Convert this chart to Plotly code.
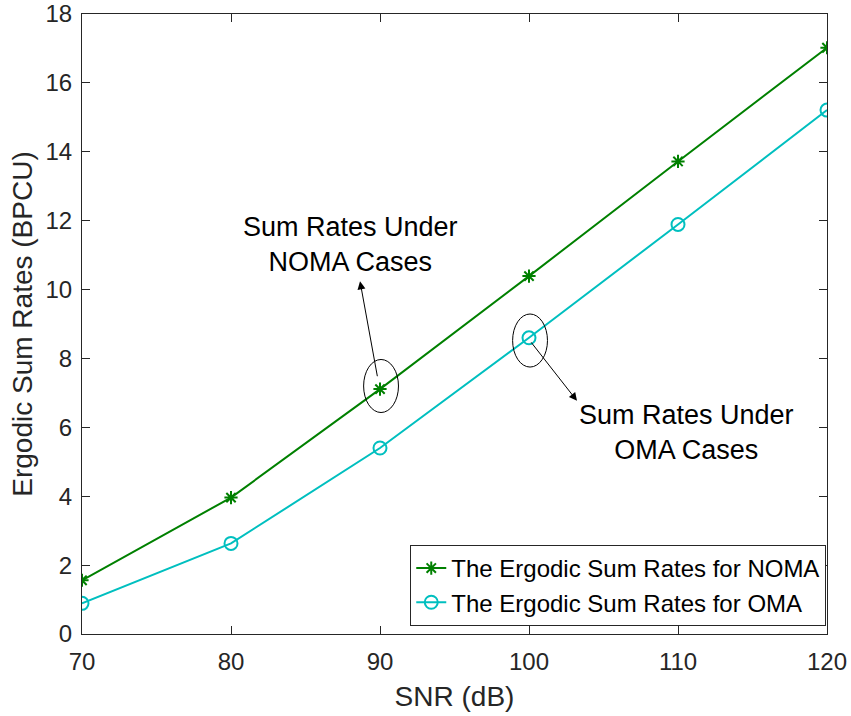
import plotly.graph_objects as go

snr = [70, 80, 90, 100, 110, 120]
noma = [1.56, 3.96, 7.11, 10.39, 13.72, 17.02]
oma = [0.89, 2.63, 5.40, 8.60, 11.89, 15.21]
noma_name = "The Ergodic Sum Rates for NOMA"
oma_name = "The Ergodic Sum Rates for OMA"
x_ticks = [70, 80, 90, 100, 110, 120]
y_ticks = [0, 2, 4, 6, 8, 10, 12, 14, 16, 18]

FONT = "Liberation Sans, Arial, Helvetica, sans-serif"
AX = "#262626"

fig = go.Figure()
fig.add_trace(go.Scatter(x=snr, y=noma, mode="lines+markers", name=noma_name,
                         line=dict(color="#008000", width=2),
                         marker=dict(symbol="asterisk-open", size=11, color="#008000",
                                     line=dict(color="#008000", width=2))))
fig.add_trace(go.Scatter(x=snr, y=oma, mode="lines+markers", name=oma_name,
                         line=dict(color="#00BFBF", width=2),
                         marker=dict(symbol="circle-open", size=13, color="#00BFBF",
                                     line=dict(color="#00BFBF", width=2))))

# ellipses
for cx, cy in [(90.07, 7.2), (100.07, 8.52)]:
    fig.add_shape(type="circle", xref="x", yref="y",
                  x0=cx - 1.17, x1=cx + 1.17, y0=cy - 0.77, y1=cy + 0.77,
                  line=dict(color="black", width=1))

# arrows
fig.add_annotation(x=88.66, y=10.24, ax=89.84, ay=7.44, xref="x", yref="y",
                   axref="x", ayref="y", text="", showarrow=True,
                   arrowhead=2, arrowsize=1.6, arrowwidth=1, arrowcolor="black")
fig.add_annotation(x=103.22, y=6.77, ax=100.07, ay=8.51, xref="x", yref="y",
                   axref="x", ayref="y", text="", showarrow=True,
                   arrowhead=2, arrowsize=1.6, arrowwidth=1, arrowcolor="black")

fig.add_annotation(x=87.99, y=11.31, xref="x", yref="y", showarrow=False,
                   text="Sum Rates Under<br>NOMA Cases",
                   font=dict(family=FONT, size=27, color="black"), align="center")
fig.add_annotation(x=110.6, y=5.84, xref="x", yref="y", showarrow=False,
                   text="Sum Rates Under<br>OMA Cases",
                   font=dict(family=FONT, size=27, color="black"), align="center")

axis_common = dict(showline=True, linecolor=AX, linewidth=1, mirror="ticks",
                   ticks="inside", ticklen=8, tickcolor=AX, tickwidth=1,
                   showgrid=False, zeroline=False, automargin=False,
                   ticklabeloverflow="allow",
                   tickfont=dict(family=FONT, size=24, color=AX))

fig.update_xaxes(range=[70, 120], tickvals=x_ticks, ticklabelstandoff=6,
                 title=dict(text="SNR (dB)", font=dict(family=FONT, size=28, color=AX), standoff=12),
                 **axis_common)
fig.update_yaxes(range=[0, 18], tickvals=y_ticks, ticklabelstandoff=4,
                 title=dict(text="Ergodic Sum Rates (BPCU)", font=dict(family=FONT, size=28, color=AX), standoff=4),
                 **axis_common)

fig.update_layout(
    width=851, height=716,
    margin=dict(l=82, r=24, t=14, b=82),
    plot_bgcolor="white", paper_bgcolor="white",
    font=dict(family=FONT, color=AX),
    legend=dict(x=0.999, y=0.013, xanchor="right", yanchor="bottom",
                bgcolor="white", bordercolor=AX, borderwidth=1,
                font=dict(family=FONT, size=24, color="black"),
                itemwidth=30, tracegroupgap=0),
    showlegend=True,
)

fig.write_html("out.html")
